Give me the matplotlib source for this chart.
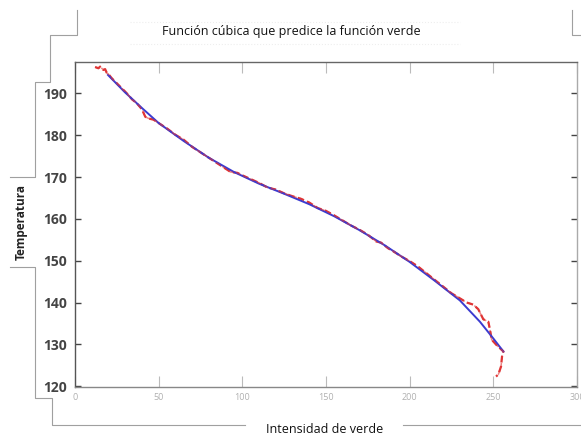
import numpy as np
import matplotlib.pyplot as plt
from matplotlib.lines import Line2D

red_x = [12, 14, 15, 17, 18, 19, 20, 22, 25, 28, 31, 34, 37, 40, 42, 44, 47, 50,
         55, 60, 65, 70, 75, 80, 85, 90, 93, 97, 100, 105, 110, 115, 120, 125,
         130, 135, 140, 145, 150, 155, 160, 165, 170, 175, 180, 183, 187, 190,
         195, 200, 205, 210, 215, 220, 225, 230, 234, 238, 241, 244, 247, 248,
         249, 252, 256, 255.2, 254.6, 253, 251.6]
red_y = [196.3, 196.0, 196.4, 195.6, 195.8, 194.9, 194.6, 193.6, 192.4, 191.2,
         190.0, 188.6, 187.6, 186.2, 184.4, 184.0, 183.7, 182.9, 181.6, 180.1,
         178.9, 177.2, 175.9, 174.6, 173.3, 172.0, 171.2, 171.0, 170.4, 169.5,
         168.6, 167.5, 167.0, 166.1, 165.4, 164.8, 163.9, 162.6, 161.9, 160.8,
         159.6, 158.4, 157.4, 156.2, 154.6, 154.3, 153.0, 152.3, 151.0, 149.9,
         148.6, 147.0, 145.4, 143.8, 142.2, 141.0, 140.0, 139.5, 138.4, 136.0,
         135.4, 133.5, 131.1, 129.8, 128.3, 127.1, 124.7, 122.8, 122.3]

# blue: cubic prediction
blue_x = [19.7, 30, 40, 50, 65, 80, 95, 110, 125, 140, 155, 170, 185, 200, 215,
          230, 242, 250, 256]
blue_y = [194.4, 190.2, 186.5, 182.9, 178.6, 174.6, 171.2, 168.4, 166.0, 163.5,
          160.6, 157.3, 153.7, 149.7, 145.2, 140.5, 135.4, 131.4, 128.3]

x_ticks = [0, 50, 100, 150, 200, 250, 300]
y_ticks = [120, 130, 140, 150, 160, 170, 180, 190]

font = 'Open Sans'

W, H = 581, 436
fig = plt.figure(figsize=(W / 100, H / 100), dpi=100)
ax = fig.add_axes([75 / W, 1 - 387 / H, 502 / W, 325 / H])

ax.plot(red_x, red_y, '--', color='#e03535', lw=1.6, dashes=(3, 1.5))
ax.plot(blue_x, blue_y, '-', color='#3b3bd0', lw=1.4)
ax.plot(red_x, red_y, '--', color='#e03535', lw=1.1, dashes=(3, 2), alpha=0.6)

ax.set_xlim(0, 300)
ax.set_ylim(119.8, 197.5)
ax.set_xticks(x_ticks)
ax.set_yticks(y_ticks)
ax.set_xticklabels([str(v) for v in x_ticks], fontsize=6.5, color='#b0b0b0',
                   family=font)
ax.set_yticklabels([str(v) for v in y_ticks], fontsize=10, color='#444444',
                   fontweight='bold', family=font)
ax.tick_params(axis='y', direction='in', length=4, width=1, color='#444444',
               right=True, pad=6)
ax.tick_params(axis='x', direction='in', length=8, width=0.8, color='#bbbbbb',
               top=True, pad=4)
for s, c in [('left', '#555555'), ('bottom', '#888888'), ('top', '#666666'),
             ('right', '#aaaaaa')]:
    ax.spines[s].set_color(c)
    ax.spines[s].set_linewidth(1.0)

fig.text(291 / W, 1 - 32 / H, 'Función cúbica que predice la función verde',
         ha='center', va='center', fontsize=9, family=font, color='#111111')
fig.text(21 / W, 1 - 222 / H, 'Temperatura', rotation=90, ha='center',
         va='center', fontsize=8.5, fontweight='bold', family=font, color='#222222')
fig.text(325 / W, 1 - 429 / H, 'Intensidad de verde', ha='center', va='center',
         fontsize=9, family=font, color='#111111')

# frame lines of the page around the chart
frame = [
    [(77, 10), (77, 35), (50, 35), (50, 82), (35, 82), (35, 177), (10, 177)],
    [(10, 267), (35, 267), (35, 398), (52, 398), (52, 425), (245, 425)],
    [(403, 425), (581, 425)],
    [(572, 10), (572, 35), (581, 35)],
]
for pts in frame:
    xs = [p[0] / W for p in pts]
    ys = [1 - p[1] / H for p in pts]
    fig.add_artist(Line2D(xs, ys, color='#a0a0a0', lw=0.8,
                          transform=fig.transFigure))
for y0 in (22, 44):
    fig.add_artist(Line2D([130 / W, 460 / W], [1 - y0 / H] * 2, color='#eeeeee',
                          lw=0.8, ls=':', transform=fig.transFigure))

fig.savefig('out.png', dpi=100)
